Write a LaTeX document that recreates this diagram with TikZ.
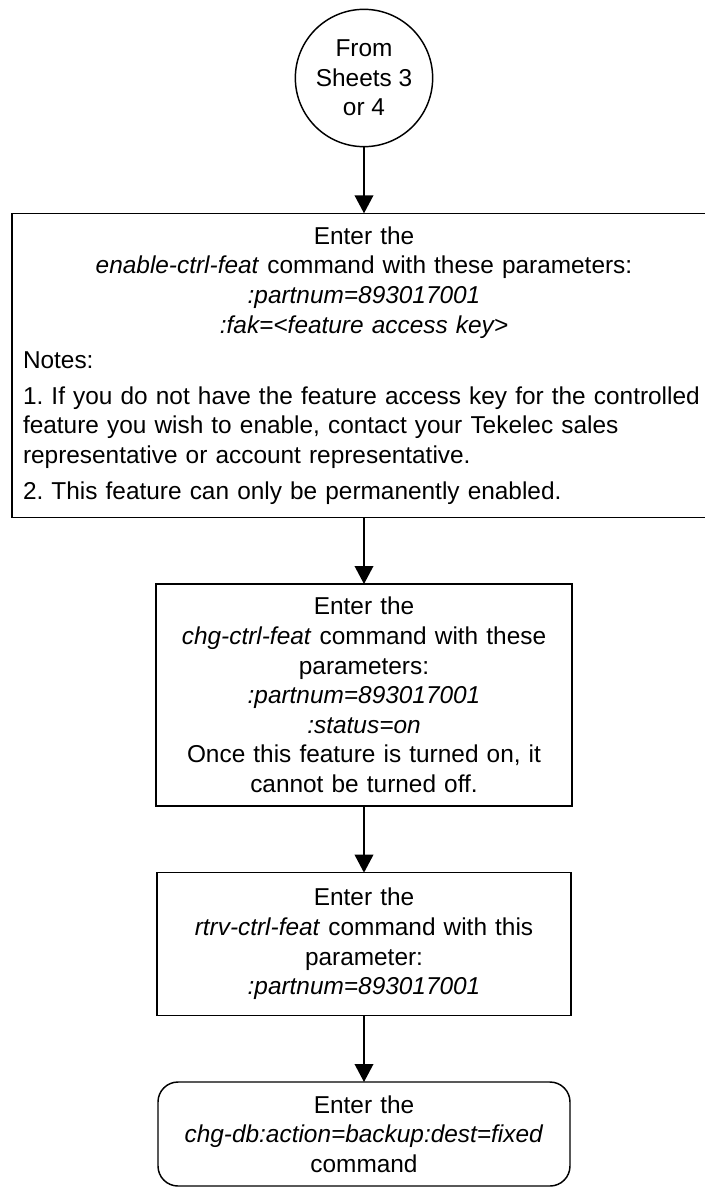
\documentclass[tikz,border=0pt]{standalone}
\usepackage{fontspec}
\setmainfont{Liberation Sans}
\usepackage{tikz}
\usetikzlibrary{arrows.meta,positioning,shapes.geometric}
\newcommand{\flowfont}{\fontsize{18.3pt}{22.2pt}\selectfont\frenchspacing\hyphenpenalty=10000 \exhyphenpenalty=10000 \relax}

\begin{document}
\begin{tikzpicture}[
    x=0.75pt, y=0.75pt,
    font=\flowfont,
    node distance=50pt,
    block/.style={draw, line width=1.1pt, align=center, inner xsep=6pt, inner ysep=3pt, outer sep=0pt, fill=white},
    connector/.style={draw, circle, line width=1.1pt, align=center, minimum size=103pt, inner sep=0pt, outer sep=0pt},
    arrow/.style={-{Triangle[length=13.5pt,width=14pt]}, line width=1.1pt}
]
\useasboundingbox (0,0) rectangle (705,-1188);
\node[connector] (fromsheets) at (364,-78) {From\\Sheets 3\\or 4};
\node[block, below=of fromsheets, text width=511.5pt, inner xsep=8.25pt, minimum height=228pt, align=left] (enable) {{\centering Enter the\\\textit{enable-ctrl-feat} command with these parameters:\\\textit{:partnum=893017001}\\\textit{:fak=<feature access key>}\par}\vspace{4.5pt}Notes:\par\vspace{4.5pt}\mbox{1. If you do not have the feature access key for the controlled}\\feature you wish to enable, contact your Tekelec sales\\representative or account representative.\par\vspace{4.5pt}2. This feature can only be permanently enabled.};
\node[block, below=of enable, text width=300pt, minimum height=166.5pt] (turnon) {Enter the\\\textit{chg-ctrl-feat} command with these\\parameters:\\\textit{:partnum=893017001}\\\textit{:status=on}\\Once this feature is turned on, it\\cannot be turned off.};
\node[block, below=of turnon, text width=298.5pt, minimum height=107pt] (verify) {Enter the\\\textit{rtrv-ctrl-feat} command with this\\parameter:\\\textit{:partnum=893017001}};
\node[block, below=of verify, rounded corners=15pt, text width=297pt, minimum height=78pt] (backup) {Enter the\\\textit{chg-db:action=backup:dest=fixed}\\command};

\draw[arrow] (fromsheets) -- (enable);
\draw[arrow] (enable) -- (turnon);
\draw[arrow] (turnon) -- (verify);
\draw[arrow] (verify) -- (backup);
\end{tikzpicture}
\end{document}
